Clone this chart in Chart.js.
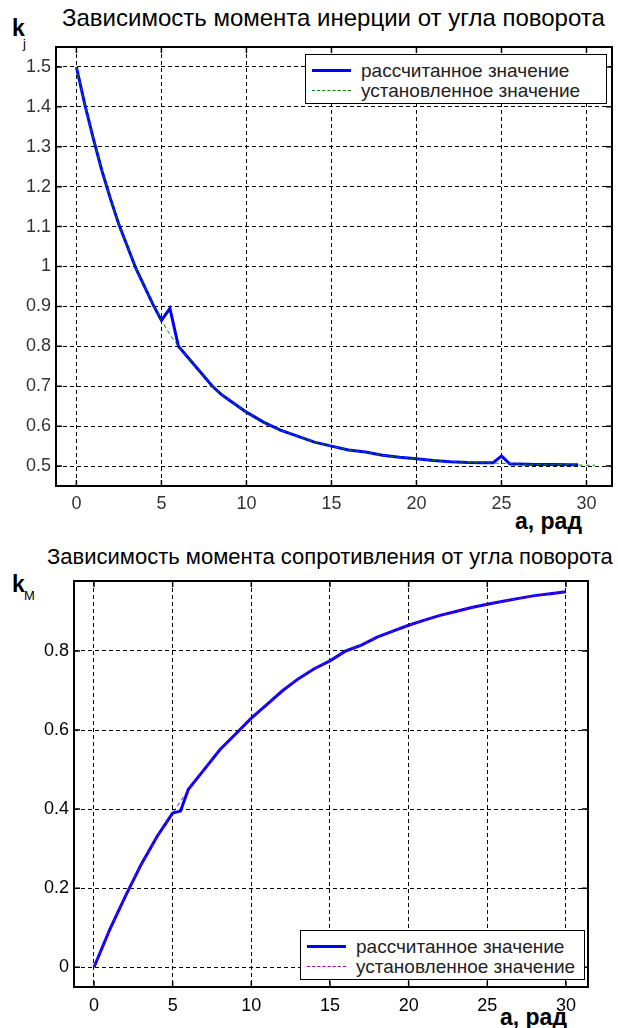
<!DOCTYPE html>
<html>
<head>
<meta charset="utf-8">
<script src="https://cdn.jsdelivr.net/npm/chart.js@4.4.0/dist/chart.umd.min.js"></script>
<style>
  body { margin: 0; background: #fff; width: 618px; height: 1028px; position: relative; overflow: hidden;
         font-family: "Liberation Sans", Arial, sans-serif; }
  canvas { position: absolute; left: 0; }
  .txt { position: absolute; white-space: nowrap; color: #000; line-height: 1; }
  .legend { position: absolute; border: 1px solid #000; background: #fff; }
  .row { position: absolute; left: 0; height: 20px; width: 100%; }
  .sample { position: absolute; left: 6px; width: 39px; top: 9px; }
  .row span { position: absolute; left: 55px; top: 0px; font-size: 19px; color: #222; white-space: nowrap; }
</style>
</head>
<body>

<div class="txt" style="left:62px;top:6px;font-size:24px;">Зависимость момента инерции от угла поворота</div>
<div class="txt" style="left:12px;top:17px;font-size:23px;font-weight:bold;">k</div>
<div class="txt" style="left:23px;top:37px;font-size:13px;">j</div>
<div class="txt" style="left:515px;top:510px;font-size:23px;font-weight:bold;">а, рад</div>
<canvas id="c1" width="618" height="530" style="top:0"></canvas>
<div class="legend" id="leg1" style="left:305px;top:54px;width:300px;height:48px;"></div>

<div class="txt" style="left:47px;top:546px;font-size:22px;">Зависимость момента сопротивления от угла поворота</div>
<div class="txt" style="left:12px;top:573px;font-size:23px;font-weight:bold;">k</div>
<div class="txt" style="left:24px;top:589px;font-size:13px;">M</div>
<div class="txt" style="left:500px;top:1006px;font-size:23px;font-weight:bold;">а, рад</div>
<canvas id="c2" width="618" height="498" style="top:530px"></canvas>
<div class="legend" id="leg2" style="left:300px;top:930px;width:283px;height:48px;"></div>

<script>
// legend labels
var seriesNames = ["рассчитанное значение", "установленное значение"];

// axis ticks
var ticksX = [0, 5, 10, 15, 20, 25, 30];
var ticksJ = [0.5, 0.6, 0.7, 0.8, 0.9, 1, 1.1, 1.2, 1.3, 1.4, 1.5];
var ticksM = [0, 0.2, 0.4, 0.6, 0.8];

// top plot - moment of inertia, calculated (blue)
var xJcalc = [0, 0.5, 1, 1.5, 2, 2.5, 3, 3.5, 4, 4.5, 5, 5.5, 6, 6.5, 7, 7.5, 8, 8.5, 9, 9.5, 10,
              11, 12, 13, 14, 15, 16, 17, 18, 19, 20, 21, 22, 23, 24, 24.5, 25, 25.5, 26, 27, 28, 29, 29.5];
var kJcalc = [1.5, 1.405, 1.32, 1.24, 1.17, 1.105, 1.05, 0.995, 0.95, 0.905, 0.865, 0.895, 0.8, 0.775, 0.75,
              0.725, 0.7, 0.68, 0.665, 0.65, 0.635, 0.61, 0.59, 0.575, 0.56, 0.55, 0.54, 0.535, 0.527, 0.522,
              0.518, 0.514, 0.511, 0.509, 0.508, 0.508, 0.525, 0.505, 0.505, 0.504, 0.504, 0.503, 0.503];

// top plot - set value (green dashed)
var xJset = [0, 0.5, 1, 1.5, 2, 2.5, 3, 3.5, 4, 4.5, 5, 5.5, 6, 6.5, 7, 7.5, 8, 8.5, 9, 9.5, 10,
             11, 12, 13, 14, 15, 16, 17, 18, 19, 20, 21, 22, 23, 24, 25, 26, 27, 28, 29, 30, 30.5];
var kJset = [1.5, 1.405, 1.32, 1.24, 1.17, 1.105, 1.05, 0.995, 0.95, 0.905, 0.865, 0.83, 0.8, 0.775, 0.75,
             0.725, 0.7, 0.68, 0.665, 0.65, 0.635, 0.61, 0.59, 0.575, 0.56, 0.55, 0.54, 0.535, 0.527, 0.522,
             0.518, 0.514, 0.511, 0.509, 0.508, 0.507, 0.505, 0.504, 0.504, 0.503, 0.502, 0.502];

// bottom plot - moment of resistance, calculated (blue)
var xMcalc = [0, 1, 2, 3, 4, 4.5, 5, 5.5, 6, 7, 8, 9, 10, 11, 12, 13, 14, 15, 16, 17, 18, 19, 20,
              21, 22, 23, 24, 25, 26, 27, 28, 29, 30];
var kMcalc = [0, 0.095, 0.18, 0.26, 0.33, 0.36, 0.39, 0.395, 0.45, 0.5, 0.55, 0.59, 0.63, 0.665, 0.7, 0.73,
              0.755, 0.775, 0.8, 0.815, 0.835, 0.85, 0.865, 0.878, 0.89, 0.9, 0.91, 0.918, 0.926, 0.933,
              0.94, 0.945, 0.95];

// bottom plot - set value (purple dashed)
var xMset = [0, 1, 2, 3, 4, 5, 5.5, 6, 7, 8, 9, 10, 11, 12, 13, 14, 15, 16, 17, 18, 19, 20,
             21, 22, 23, 24, 25, 26, 27, 28, 29, 30];
var kMset = [0, 0.095, 0.18, 0.26, 0.33, 0.39, 0.42, 0.45, 0.5, 0.55, 0.59, 0.63, 0.665, 0.7, 0.73,
             0.755, 0.775, 0.8, 0.815, 0.835, 0.85, 0.865, 0.878, 0.89, 0.9, 0.91, 0.918, 0.926, 0.933,
             0.94, 0.945, 0.95];

function pts(xs, ys) {
  return xs.map(function (x, i) { return { x: x, y: ys[i] }; });
}

function fmt(v) {
  return String(Math.round(v * 10) / 10);
}

// box around plot with inward ticks (matlab style)
var framePlugin = {
  id: "frame",
  afterDraw: function (chart) {
    var a = chart.chartArea, ctx = chart.ctx;
    var sx = chart.scales.x, sy = chart.scales.y;
    ctx.save();
    ctx.strokeStyle = "#000";
    ctx.lineWidth = 1.5;
    ctx.setLineDash([]);
    ctx.beginPath();
    sx.ticks.forEach(function (t) {
      var p = sx.getPixelForValue(t.value);
      ctx.moveTo(p, a.bottom); ctx.lineTo(p, a.bottom - 6);
      ctx.moveTo(p, a.top); ctx.lineTo(p, a.top + 6);
    });
    sy.ticks.forEach(function (t) {
      var p = sy.getPixelForValue(t.value);
      ctx.moveTo(a.left, p); ctx.lineTo(a.left + 6, p);
      ctx.moveTo(a.right, p); ctx.lineTo(a.right - 6, p);
    });
    ctx.stroke();
    ctx.lineWidth = 2;
    ctx.strokeRect(a.left, a.top, a.right - a.left, a.bottom - a.top);
    ctx.restore();
  }
};

function makeChart(id, cfg) {
  return new Chart(document.getElementById(id), {
    type: "line",
    data: {
      datasets: [
        { label: seriesNames[0], data: pts(cfg.xc, cfg.yc), borderColor: "#0000ff", borderWidth: 3,
          pointRadius: 0, tension: 0, order: 2 },
        { label: seriesNames[1], data: pts(cfg.xs, cfg.ys), borderColor: cfg.setColor, borderWidth: 1,
          borderDash: [4, 3], pointRadius: 0, tension: 0, order: 1 }
      ]
    },
    options: {
      responsive: false,
      animation: false,
      devicePixelRatio: 1,
      layout: { padding: { left: 0, top: cfg.padTop, right: cfg.padRight, bottom: 0 } },
      plugins: { legend: { display: false }, tooltip: { enabled: false } },
      scales: {
        x: {
          type: "linear", min: cfg.xmin, max: cfg.xmax,
          afterBuildTicks: function (s) { s.ticks = ticksX.map(function (v) { return { value: v }; }); },
          afterFit: function (s) { s.height = cfg.xH; },
          grid: { color: "#000", lineWidth: 1, drawTicks: false },
          border: { display: false, dash: [4, 3] },
          ticks: { padding: cfg.xPad, color: cfg.tickColor, font: { family: "Liberation Sans", size: 18 },
                   maxRotation: 0, callback: function (v) { return fmt(v); } }
        },
        y: {
          type: "linear", min: cfg.ymin, max: cfg.ymax,
          afterBuildTicks: function (s) { s.ticks = cfg.yticks.map(function (v) { return { value: v }; }); },
          afterFit: function (s) { s.width = cfg.yW; },
          grid: { color: "#000", lineWidth: 1, drawTicks: false },
          border: { display: false, dash: [4, 3] },
          ticks: { padding: 5, color: cfg.tickColor, font: { family: "Liberation Sans", size: 18 },
                   callback: function (v) { return fmt(v); } }
        }
      }
    },
    plugins: [framePlugin]
  });
}

makeChart("c1", {
  xc: xJcalc, yc: kJcalc, xs: xJset, ys: kJset, setColor: "#008000",
  xmin: -1.2, xmax: 31.5, ymin: 0.45, ymax: 1.55, yticks: ticksJ,
  padTop: 47, padRight: 6, xH: 44, yW: 56, xPad: 7, tickColor: "#333"
});

makeChart("c2", {
  xc: xMcalc, yc: kMcalc, xs: xMset, ys: kMset, setColor: "#990099",
  xmin: -1.27, xmax: 31.4, ymin: -0.05, ymax: 0.977, yticks: ticksM,
  padTop: 51, padRight: 30, xH: 41, yW: 74, xPad: 8, tickColor: "#000"
});

// html legends
function buildLegend(id, setColor) {
  var leg = document.getElementById(id);
  var styles = ["border-top:3px solid #0000ff;", "border-top:1px dashed " + setColor + ";top:10px;"];
  seriesNames.forEach(function (name, i) {
    var row = document.createElement("div");
    row.className = "row";
    row.style.top = (5 + i * 20) + "px";
    row.innerHTML = '<div class="sample" style="' + styles[i] + '"></div><span>' + name + "</span>";
    leg.appendChild(row);
  });
}
buildLegend("leg1", "#008000");
buildLegend("leg2", "#990099");
</script>
</body>
</html>
